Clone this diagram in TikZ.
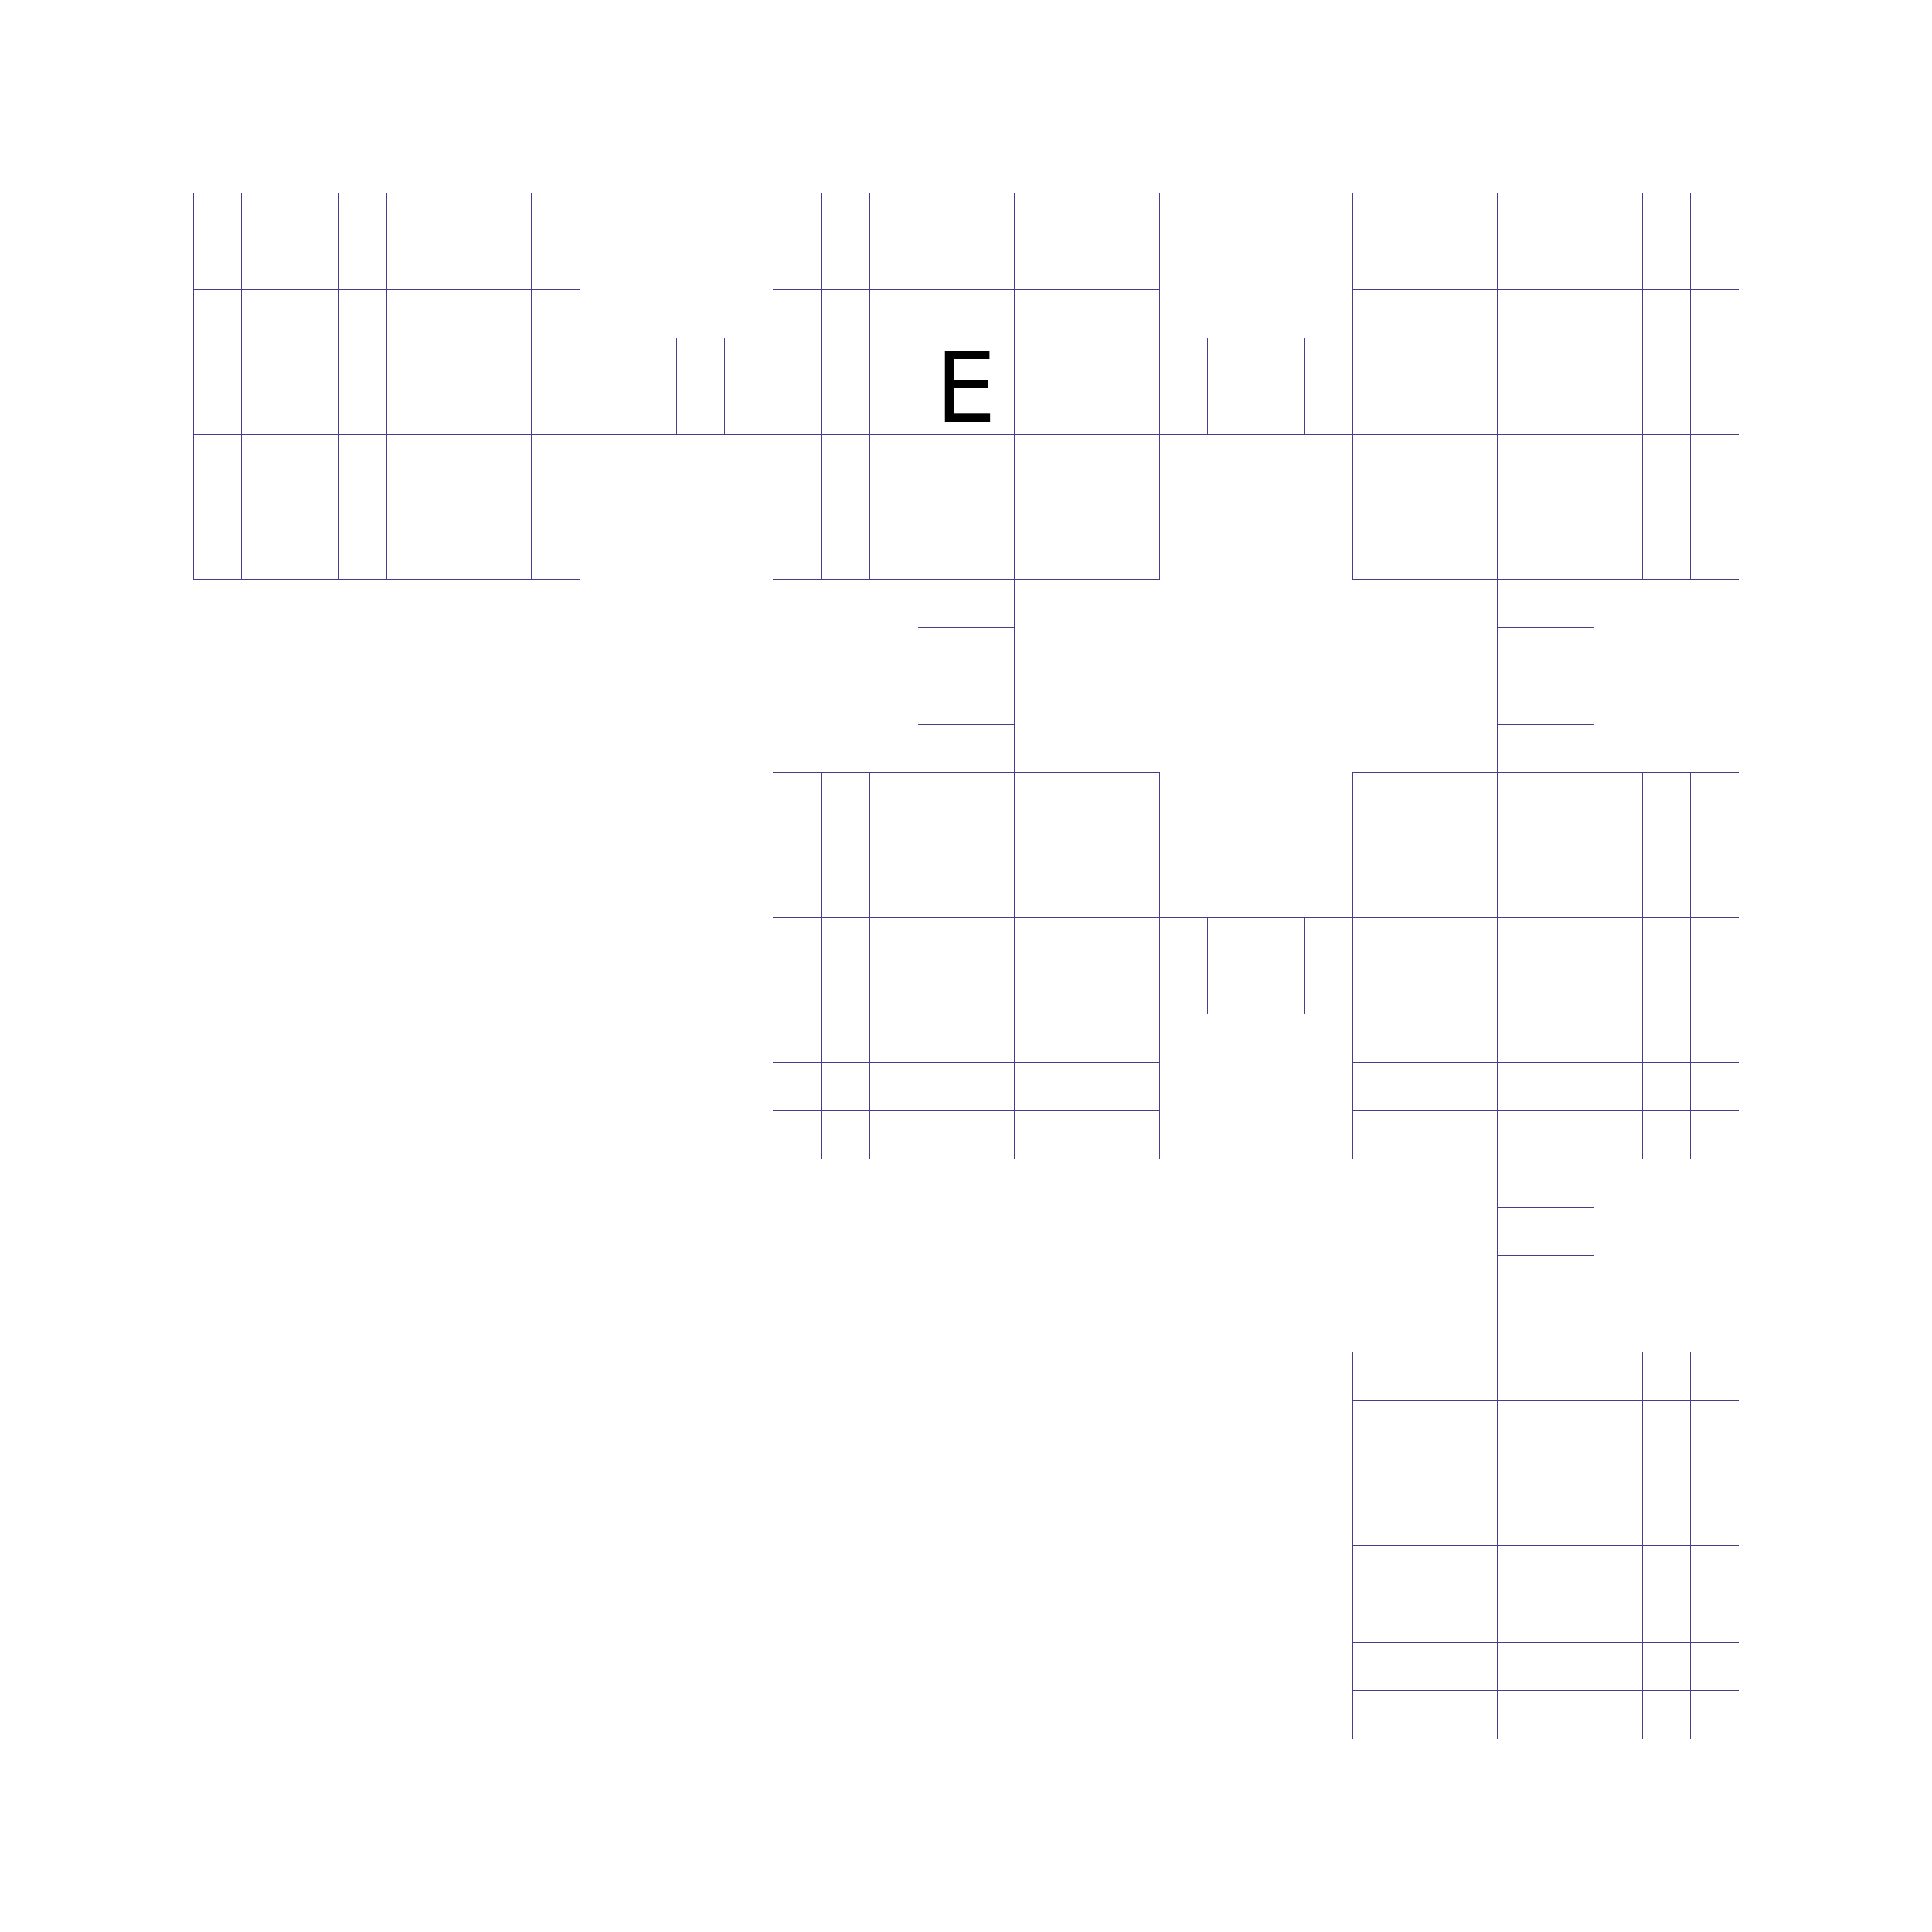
\documentclass[tikz,border=0pt]{standalone}
\usepackage{fontspec}
\newfontfamily\labelfont{DejaVu Sans}
\usepackage{tikz}
\usetikzlibrary{calc}
\definecolor{gridblue}{HTML}{483D8B}

\begin{document}
\begin{tikzpicture}[
    room/.style={minimum size=4cm, inner sep=0pt, outer sep=0pt},
    cell/.style={draw=gridblue, line width=0.14pt, step=0.5},
    mark label/.style={font=\labelfont\fontsize{28.6}{30}\selectfont, inner sep=0pt}
]
\useasboundingbox (0,0) rectangle (20,20);

% rooms
\node[room] (r1) at (4,16) {};
\node[room] (r2) at (10,16) {};
\node[room] (r3) at (16,16) {};
\node[room] (r4) at (10,10) {};
\node[room] (r5) at (16,10) {};
\node[room] (r6) at (16,4) {};

\foreach \r in {r1,r2,r3,r4,r5,r6}
    \draw[cell] (\r.south west) grid (\r.north east) (\r.south west) rectangle (\r.north east);

% corridors
\draw[cell] ($(r1.east)+(0,-0.5)$) grid ($(r2.west)+(0,0.5)$) ($(r1.east)+(0,-0.5)$) rectangle ($(r2.west)+(0,0.5)$);
\draw[cell] ($(r2.east)+(0,-0.5)$) grid ($(r3.west)+(0,0.5)$) ($(r2.east)+(0,-0.5)$) rectangle ($(r3.west)+(0,0.5)$);
\draw[cell] ($(r4.east)+(0,-0.5)$) grid ($(r5.west)+(0,0.5)$) ($(r4.east)+(0,-0.5)$) rectangle ($(r5.west)+(0,0.5)$);
\draw[cell] ($(r4.north)+(-0.5,0)$) grid ($(r2.south)+(0.5,0)$) ($(r4.north)+(-0.5,0)$) rectangle ($(r2.south)+(0.5,0)$);
\draw[cell] ($(r5.north)+(-0.5,0)$) grid ($(r3.south)+(0.5,0)$) ($(r5.north)+(-0.5,0)$) rectangle ($(r3.south)+(0.5,0)$);
\draw[cell] ($(r6.north)+(-0.5,0)$) grid ($(r5.south)+(0.5,0)$) ($(r6.north)+(-0.5,0)$) rectangle ($(r5.south)+(0.5,0)$);

\node[mark label] (entry) at (r2.center) {E};

\end{tikzpicture}
\end{document}
